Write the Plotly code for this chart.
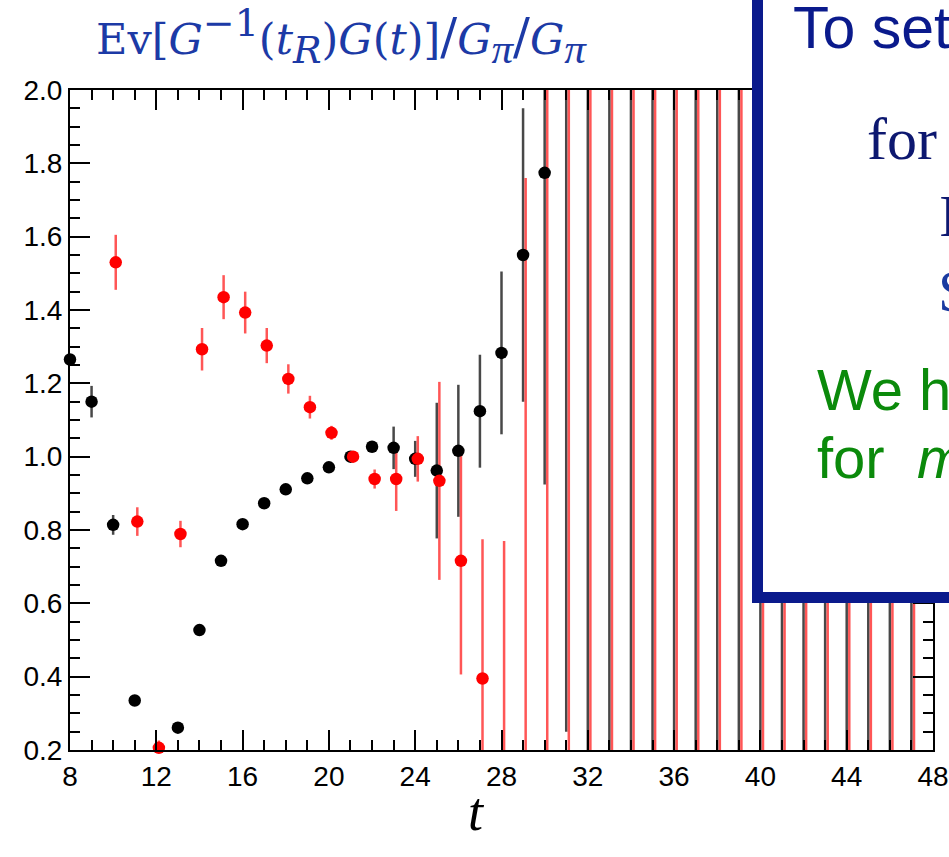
import plotly.graph_objects as go

# ---------------- data ----------------
t_black = [8, 9, 10, 11, 12, 13, 14, 15, 16, 17, 18, 19, 20, 21, 22, 23, 24, 25, 26, 27,
           28, 29, 30, 31, 32, 33, 34, 35, 36, 37, 38, 39, 40, 41, 42, 43, 44, 45, 46, 47]
black_y = [1.265, 1.150, 0.814, 0.335, None, 0.261, 0.527, 0.716, 0.816, 0.873,
           0.911, 0.941, 0.971, 1.000, 1.027, 1.024, 0.994, 0.962, 1.016, 1.124,
           1.283, 1.550, 1.774, 2.200, 2.300, 2.300, 2.300, 2.300, 2.300, 2.300,
           2.300, 2.300, 2.300, 2.300, 2.300, 2.300, 2.300, 2.300, 2.300, 2.300]
black_err = [0.010, 0.043, 0.027, 0.010, None, 0.010, 0.010, 0.010, 0.010, 0.010,
             0.010, 0.010, 0.010, 0.010, 0.010, 0.058, 0.049, 0.185, 0.180, 0.154,
             0.222, 0.400, 0.850, 1.950, 2.600, 2.600, 2.600, 2.600, 2.600, 2.600,
             2.600, 2.600, 2.600, 2.600, 2.600, 2.600, 2.600, 2.600, 2.600, 2.600]

t_red = [10, 11, 12, 13, 14, 15, 16, 17, 18, 19, 20, 21, 22, 23, 24, 25, 26, 27, 28,
         29, 30, 31, 32, 33, 34, 35, 36, 37, 38, 39, 40, 41, 42, 43, 44, 45, 46, 47]
red_y = [1.530, 0.823, 0.206, 0.789, 1.293, 1.435, 1.393, 1.303, 1.212, 1.135,
         1.065, 1.000, 0.939, 0.939, 0.994, 0.934, 0.716, 0.395, 0.080, 0.710,
         1.752, 2.300, 2.300, 2.300, 2.300, 2.300, 2.300, 2.300, 2.300, 2.300,
         2.300, 2.300, 2.300, 2.300, 2.300, 2.300, 2.300, 2.300]
red_err = [0.075, 0.039, 0.020, 0.036, 0.058, 0.060, 0.057, 0.048, 0.040, 0.031,
           0.019, 0.010, 0.026, 0.087, 0.062, 0.270, 0.310, 0.380, 0.690, 1.050,
           1.700, 2.600, 2.600, 2.600, 2.600, 2.600, 2.600, 2.600, 2.600, 2.600,
           2.600, 2.600, 2.600, 2.600, 2.600, 2.600, 2.600, 2.600]
red_open_t = [29, 30]   # points drawn as open triangles

x_ticks = [8, 12, 16, 20, 24, 28, 32, 36, 40, 44, 48]
y_ticks = [0.2, 0.4, 0.6, 0.8, 1.0, 1.2, 1.4, 1.6, 1.8, 2.0]
X_RANGE = [8, 48]
Y_RANGE = [0.2, 2.0]


def scr(s, size=38, family="DejaVu Serif"):
    return f'<span style="font-size:{size}px;font-family:{family}">{s}</span>'


PI = scr("<i>\u03c0</i>", 43, "Liberation Serif")
SL = scr("/", 50)
title_html = ("Ev[<i>G</i><sup>" + scr("\u22121") + "</sup>(<i>t</i><sub>" + scr("<i>R</i>")
              + "</sub>)<i>G</i>(<i>t</i>)]" + SL + "<i>G</i><sub>" + PI + "</sub>" + SL
              + "<i>G</i><sub>" + PI + "</sub>")

# ---------------- layout geometry ----------------
W, H = 949, 857
ML, MR, MT, MB = 70, 16, 90, 107
PW, PH = W - ML - MR, H - MT - MB
RED_SHIFT = 0.12


def px(xp):
    return (xp - ML) / PW


def py(yp):
    return (H - MB - yp) / PH


fig = go.Figure()

red_x = [t + RED_SHIFT for t in t_red]

# error bars (clipped to the frame)
fig.add_trace(go.Scatter(
    x=t_black, y=black_y, mode="markers",
    marker=dict(size=1, opacity=0),
    error_y=dict(type="data", array=black_err, visible=True, width=0,
                 thickness=2.5, color="rgba(20,20,20,0.78)"),
    cliponaxis=True, showlegend=False, hoverinfo="skip"))
fig.add_trace(go.Scatter(
    x=red_x, y=red_y, mode="markers",
    marker=dict(size=1, opacity=0),
    error_y=dict(type="data", array=red_err, visible=True, width=0,
                 thickness=2.5, color="rgba(255,30,30,0.75)"),
    cliponaxis=True, showlegend=False, hoverinfo="skip"))


def in_range(v):
    return v is not None and Y_RANGE[0] <= v <= Y_RANGE[1]


bx = [t for t, v in zip(t_black, black_y) if in_range(v)]
byv = [v for v in black_y if in_range(v)]
fig.add_trace(go.Scatter(x=bx, y=byv, mode="markers",
                         marker=dict(size=12.5, color="black", symbol="circle"),
                         cliponaxis=False, showlegend=False))

rc_x = [x for x, t, v in zip(red_x, t_red, red_y) if in_range(v) and t not in red_open_t]
rc_y = [v for t, v in zip(t_red, red_y) if in_range(v) and t not in red_open_t]
fig.add_trace(go.Scatter(x=rc_x, y=rc_y, mode="markers",
                         marker=dict(size=12.5, color="#ff0000", symbol="circle"),
                         cliponaxis=False, showlegend=False))
ro_x = [x for x, t, v in zip(red_x, t_red, red_y) if in_range(v) and t in red_open_t]
ro_y = [v for t, v in zip(t_red, red_y) if in_range(v) and t in red_open_t]
fig.add_trace(go.Scatter(x=ro_x, y=ro_y, mode="markers",
                         marker=dict(size=11, color="rgba(0,0,0,0)", symbol="triangle-up-open",
                                     line=dict(color="#ff0000", width=1.5)),
                         cliponaxis=False, showlegend=False))

axis_common = dict(showline=True, linewidth=2, linecolor="black", mirror="allticks",
                   ticks="inside", ticklen=20, tickwidth=2, tickcolor="black",
                   showgrid=False, zeroline=False, automargin=False,
                   tickfont=dict(family="Liberation Sans", size=28, color="black"))

fig.update_xaxes(range=X_RANGE, tickvals=x_ticks, ticktext=[str(v) for v in x_ticks],
                 minor=dict(dtick=1, tick0=8, ticklen=10, tickwidth=2, tickcolor="black",
                            ticks="inside", showgrid=False),
                 **axis_common)
fig.update_yaxes(range=Y_RANGE, tickvals=y_ticks, ticktext=[f"{v:.1f}" for v in y_ticks],
                 minor=dict(dtick=0.05, tick0=0.2, ticklen=10, tickwidth=2, tickcolor="black",
                            ticks="inside", showgrid=False),
                 **axis_common)

NAVY = "#0a1a8c"
GREEN = "#0b8a0b"

shapes = [dict(type="rect", xref="paper", yref="paper",
               x0=px(757.5), x1=px(1010), y0=py(597.5), y1=py(-30),
               line=dict(color=NAVY, width=11), fillcolor="white", layer="above")]

ann = [
    dict(x=px(94), y=py(37), text=title_html, xanchor="left", yanchor="middle",
         font=dict(family="DejaVu Serif", size=43, color="#1c3aa6")),
    dict(x=px(476), y=py(812), text="<i>t</i>", xanchor="center", yanchor="middle",
         font=dict(family="Liberation Serif", size=54, color="black")),
    dict(x=px(791), y=py(28), text="To set", xanchor="left", yanchor="middle",
         font=dict(family="Liberation Sans", size=59, color=NAVY)),
    dict(x=px(865), y=py(139), text="for", xanchor="left", yanchor="middle",
         font=dict(family="Liberation Serif", size=60, color="#0d1870")),
    dict(x=px(937), y=py(216), text="I", xanchor="left", yanchor="middle",
         font=dict(family="Liberation Serif", size=60, color="#0d1870")),
    dict(x=px(936), y=py(291), text="S", xanchor="left", yanchor="middle",
         font=dict(family="Liberation Serif", size=60, color="#1a3aa0")),
    dict(x=px(815), y=py(389), text="We h", xanchor="left", yanchor="middle",
         font=dict(family="Liberation Sans", size=58, color=GREEN)),
    dict(x=px(815), y=py(457), text="for\u00a0\u00a0<i>m</i>", xanchor="left", yanchor="middle",
         font=dict(family="Liberation Sans", size=58, color=GREEN)),
]
for a in ann:
    a.update(xref="paper", yref="paper", showarrow=False)

fig.update_layout(width=W, height=H, margin=dict(l=ML, r=MR, t=MT, b=MB, autoexpand=False),
                  paper_bgcolor="white", plot_bgcolor="white",
                  shapes=shapes, annotations=ann, showlegend=False)

fig.write_html("out.html")
